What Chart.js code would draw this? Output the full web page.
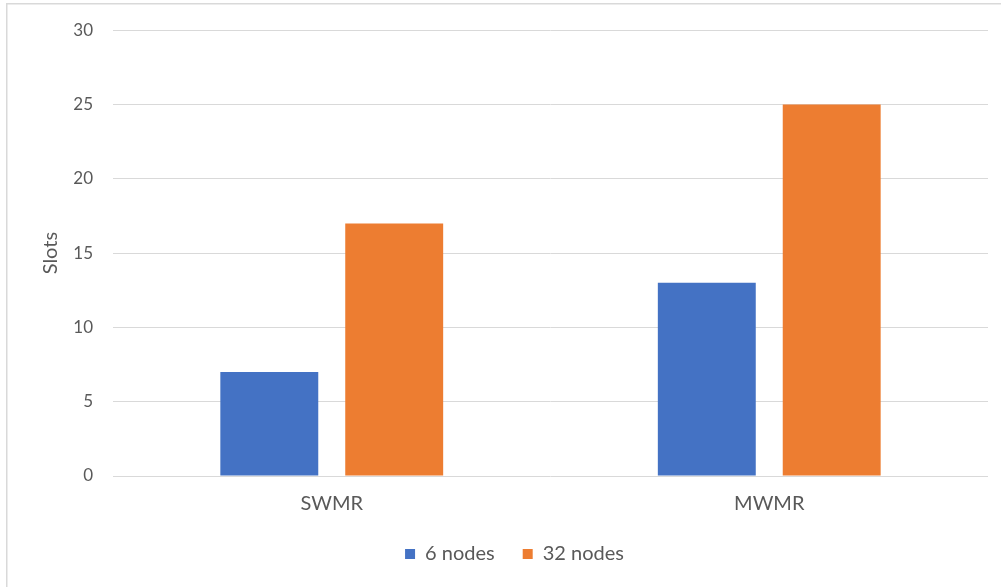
<!DOCTYPE html>
<html>
<head>
<meta charset="utf-8">
<title>Slots by writer model</title>
<script src="https://cdn.jsdelivr.net/npm/chart.js@4.4.1/dist/chart.umd.min.js"></script>
<style>
  html, body { margin: 0; padding: 0; background: #ffffff; }
  #wrap { width: 1001px; height: 587px; }
</style>
</head>
<body>
<div id="wrap"><canvas id="c" width="1001" height="587"></canvas></div>
<script>
// Categories, series and axis ticks
const categories = ['SWMR', 'MWMR'];
const seriesNames = ['6 nodes', '32 nodes'];
const nodes6 = [7, 13];
const nodes32 = [17, 25];
const yTicks = [0, 5, 10, 15, 20, 25, 30];

const textColor = '#595959';
const gridColor = '#d9d9d9';
const fontFamily = 'Lato, "Open Sans", sans-serif';

// Light frame around the whole chart
const framePlugin = {
  id: 'frame',
  afterDraw(chart) {
    const ctx = chart.ctx;
    ctx.save();
    ctx.strokeStyle = gridColor;
    ctx.lineWidth = 1.5;
    ctx.strokeRect(6.75, 3.75, chart.width + 10, chart.height - 1.5);
    ctx.restore();
  }
};

// Wide gaps between legend entries, but a compact legend box in the layout
const LEGEND_LAYOUT_HEIGHT = 40;
const LEGEND_ROW_CENTER = 554;
const legendPlacement = {
  id: 'legendPlacement',
  beforeLayout(chart) {
    const lg = chart.legend;
    if (lg && !lg._compactFit) {
      const fit = lg.fit;
      lg.fit = function () {
        fit.call(this);
        this._fullHeight = this.height;
        this.height = LEGEND_LAYOUT_HEIGHT;
      };
      lg._compactFit = true;
    }
  },
  afterLayout(chart) {
    const lg = chart.legend;
    if (!lg) return;
    const opts = lg.options.labels;
    const top = LEGEND_ROW_CENTER - opts.padding - opts.font.size / 2;
    const full = lg._fullHeight || LEGEND_LAYOUT_HEIGHT;
    lg.top = top;
    lg.height = full;
    lg.bottom = top + full;
  }
};

new Chart(document.getElementById('c'), {
  type: 'bar',
  data: {
    labels: categories,
    datasets: [
      { label: seriesNames[0], data: nodes6, backgroundColor: '#4472C4' },
      { label: seriesNames[1], data: nodes32, backgroundColor: '#ED7D31' }
    ]
  },
  options: {
    responsive: false,
    animation: false,
    devicePixelRatio: 1,
    layout: { padding: { left: 41, right: 13, top: 29, bottom: 27 } },
    datasets: { bar: { categoryPercentage: 0.571, barPercentage: 0.784 } },
    plugins: {
      tooltip: { enabled: false },
      legend: {
        position: 'bottom',
        labels: {
          color: textColor,
          font: { family: fontFamily, size: 20 },
          boxWidth: 10,
          boxHeight: 10,
          padding: 28
        }
      }
    },
    scales: {
      x: {
        grid: { display: false, drawTicks: false },
        border: { display: false },
        ticks: { color: textColor, font: { family: fontFamily, size: 20 }, padding: 16 },
        afterFit(scale) { scale.height = 44; }
      },
      y: {
        min: 0,
        max: 30,
        afterBuildTicks(scale) { scale.ticks = yTicks.map(v => ({ value: v })); },
        grid: { color: gridColor, lineWidth: 1, drawTicks: false },
        border: { display: false },
        ticks: { color: textColor, font: { family: fontFamily, size: 17 }, padding: 20 },
        title: {
          display: true,
          text: 'Slots',
          color: textColor,
          font: { family: fontFamily, size: 20, lineHeight: 1.0 },
          padding: { top: 0, bottom: 0 }
        },
        afterFit(scale) { scale.width = 72; }
      }
    }
  },
  plugins: [framePlugin, legendPlacement]
});
</script>
</body>
</html>
